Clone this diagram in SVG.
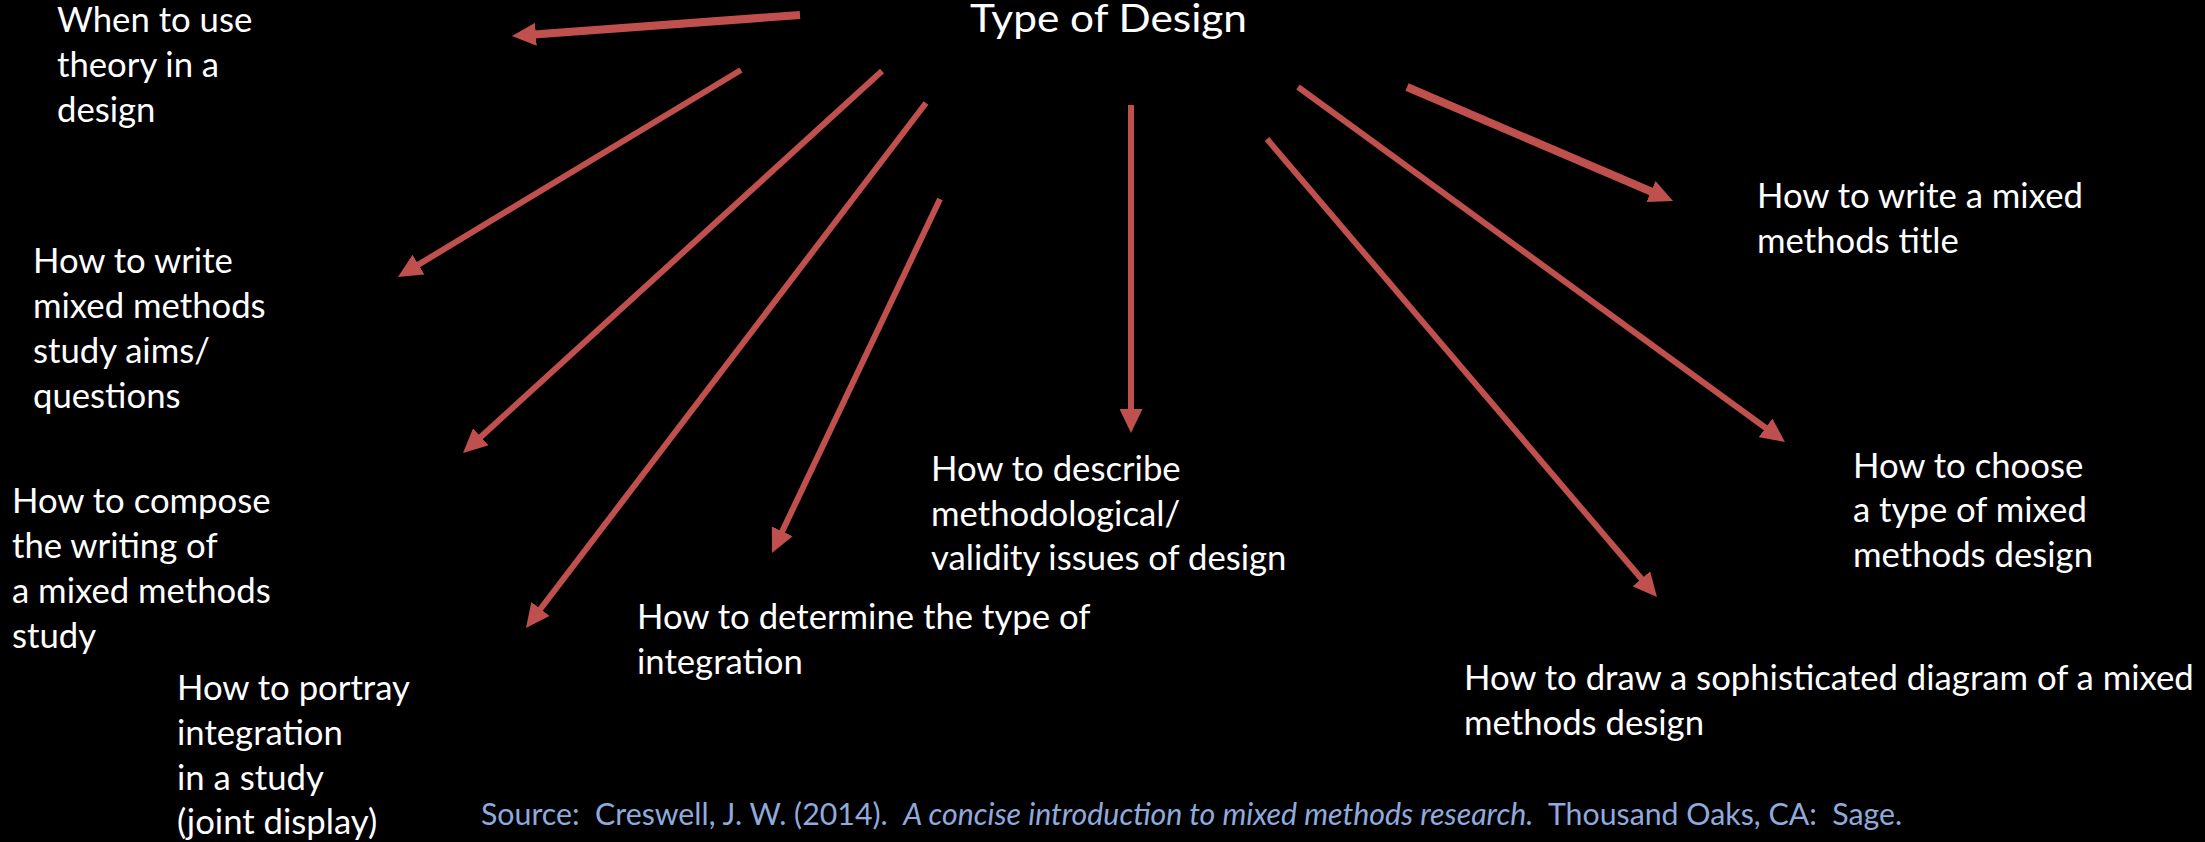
<svg xmlns="http://www.w3.org/2000/svg" width="2205" height="842" viewBox="0 0 2205 842">
<style>
.t{font-family:Lato,"Open Sans","Liberation Sans",sans-serif;font-size:34.7px;fill:#FFFFFF}
.title{font-family:Lato,"Open Sans","Liberation Sans",sans-serif;font-size:38px;fill:#FFFFFF}
.src{font-family:Lato,"Open Sans","Liberation Sans",sans-serif;font-size:30.3px;fill:#8FAADC;white-space:pre}
.a{stroke:#C0504D;stroke-width:6;fill:none}
.a.k{stroke-width:8}
</style>
<defs>
<marker id="h" markerUnits="userSpaceOnUse" markerWidth="24" markerHeight="23" refX="2" refY="11.5" orient="auto" viewBox="0 0 24 23">
<path d="M0,0 L24,11.5 L0,23 z" fill="#C0504D"/>
</marker>
</defs>
<rect x="0" y="0" width="2205" height="842" fill="#000000"/>
<g id="connectors">
<line class="a k" x1="800" y1="15" x2="533.9" y2="34.4" marker-end="url(#h)"/>
<line class="a" x1="741" y1="70" x2="416.8" y2="265.6" marker-end="url(#h)"/>
<line class="a" x1="882" y1="71" x2="479.3" y2="438.2" marker-end="url(#h)"/>
<line class="a" x1="926" y1="103" x2="539.3" y2="610.5" marker-end="url(#h)"/>
<line class="a" x1="940" y1="199" x2="781.4" y2="533.1" marker-end="url(#h)"/>
<line class="a" x1="1131" y1="105" x2="1131" y2="411" marker-end="url(#h)"/>
<line class="a" x1="1267" y1="139" x2="1642.7" y2="580.3" marker-end="url(#h)"/>
<line class="a" x1="1298" y1="87" x2="1767.2" y2="429" marker-end="url(#h)"/>
<line class="a k" x1="1407" y1="87" x2="1652.8" y2="192.3" marker-end="url(#h)"/>
</g>
<g id="title"><text class="title" x="970" y="32" textLength="277" lengthAdjust="spacingAndGlyphs">Type of Design</text></g>
<g id="n-theory"><text class="t"><tspan x="57" y="32">When to use</tspan><tspan x="57" y="77">theory in a</tspan><tspan x="57" y="122">design</tspan></text></g>
<g id="n-aims"><text class="t"><tspan x="33" y="273">How to write</tspan><tspan x="33" y="318">mixed methods</tspan><tspan x="33" y="363">study aims/</tspan><tspan x="33" y="408">questions</tspan></text></g>
<g id="n-compose"><text class="t"><tspan x="12" y="513">How to compose</tspan><tspan x="12" y="558">the writing of</tspan><tspan x="12" y="603">a mixed methods</tspan><tspan x="12" y="648">study</tspan></text></g>
<g id="n-portray"><text class="t"><tspan x="177" y="700">How to portray</tspan><tspan x="177" y="745">integration</tspan><tspan x="177" y="790">in a study</tspan><tspan x="177" y="834">(joint display)</tspan></text></g>
<g id="n-integration"><text class="t"><tspan x="637" y="629">How to determine the type of</tspan><tspan x="637" y="674">integration</tspan></text></g>
<g id="n-validity"><text class="t"><tspan x="931" y="481">How to describe</tspan><tspan x="931" y="526">methodological/</tspan><tspan x="931" y="570">validity issues of design</tspan></text></g>
<g id="n-title"><text class="t"><tspan x="1757" y="208">How to write a mixed</tspan><tspan x="1757" y="253">methods title</tspan></text></g>
<g id="n-choose"><text class="t"><tspan x="1853" y="478">How to choose</tspan><tspan x="1853" y="522">a type of mixed</tspan><tspan x="1853" y="567">methods design</tspan></text></g>
<g id="n-diagram"><text class="t"><tspan x="1464" y="690">How to draw a sophisticated diagram of a mixed</tspan><tspan x="1464" y="735">methods design</tspan></text></g>
<g id="source"><text class="src" x="481" y="825">Source:  Creswell, J. W. (2014).  <tspan font-style="italic">A concise introduction to mixed methods research.</tspan>  Thousand Oaks, CA:  Sage.</text></g>
</svg>
